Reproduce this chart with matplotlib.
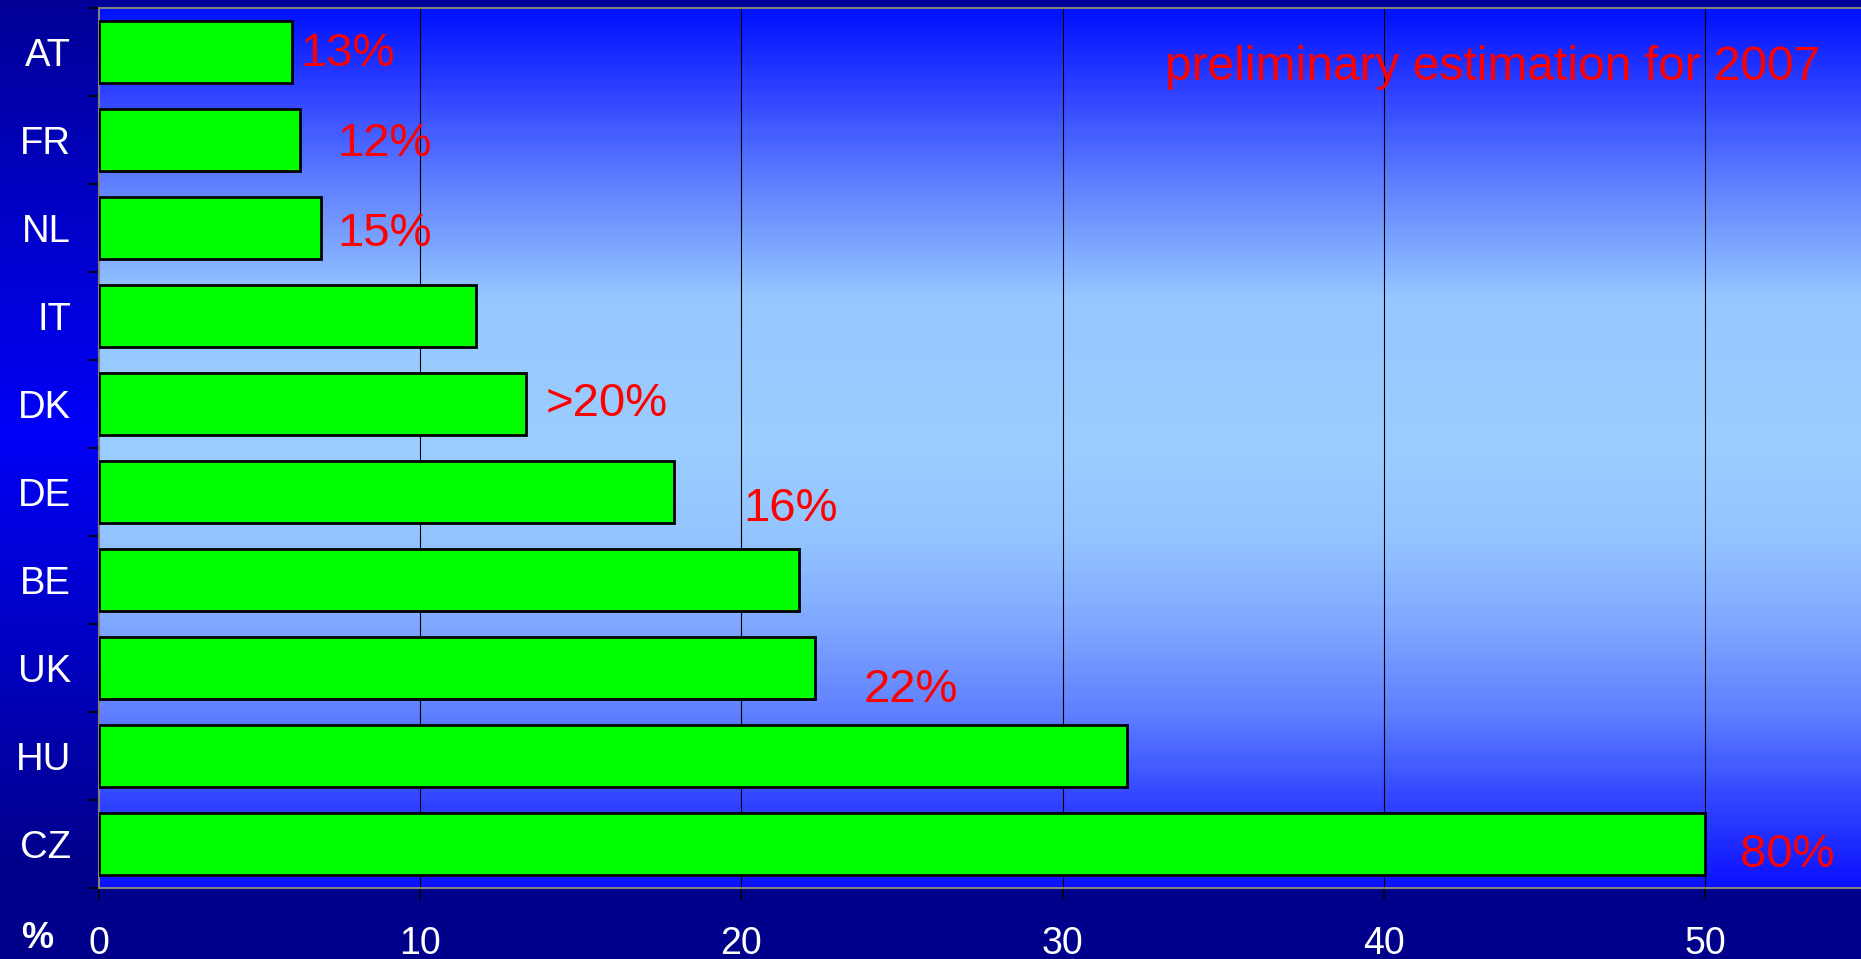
import numpy as np
import matplotlib.pyplot as plt
from matplotlib.colors import LinearSegmentedColormap

plt.rcParams['font.family'] = ['Liberation Sans', 'DejaVu Sans']

# share of each country (bars) and the red notes beside them
countries = ['AT', 'FR', 'NL', 'IT', 'DK', 'DE', 'BE', 'UK', 'HU', 'CZ']
values = [6.0, 6.25, 6.9, 11.75, 13.3, 17.9, 21.8, 22.3, 32.0, 50.0]
notes = ['13%', '12%', '15%', None, '>20%', '16%', None, '22%', None, '80%']
xticks = [0, 10, 20, 30, 40, 50]

# where each note sits (data coords: x value, category position of baseline)
note_pos = [(6.26, 0.16), (7.41, 1.18), (7.41, 2.21), None, (13.89, 4.14),
            (20.05, 5.33), None, (23.79, 7.39), None, (51.09, 9.26)]

W, H = 1861, 959
fig = plt.figure(figsize=(W / 100, H / 100), dpi=100)

# dark-blue backdrop for the whole figure
bg = fig.add_axes([0, 0, 1, 1], zorder=-10)
bg_cmap = LinearSegmentedColormap.from_list(
    'bg', [(0.0, '#000096'), (0.45, '#0000f8'), (0.9, '#00008c'), (1.0, '#00008a')])
bg.imshow(np.linspace(0, 1, 256)[:, None], aspect='auto', cmap=bg_cmap,
          extent=[0, 1, 0, 1], origin='upper')
bg.axis('off')

ax = fig.add_axes([99 / W, 1 - 888 / H, 1 - 99 / W, 880 / H])
xmax = (W - 99) / 32.12
ax.set_xlim(0, xmax)
ax.set_ylim(len(countries) - 0.5, -0.5)

# light band in the middle of the plot area
plot_cmap = LinearSegmentedColormap.from_list('plot', [
    (0.0, '#0010ff'), (0.1, '#3246ff'), (0.2, '#6080ff'), (0.33, '#96c8ff'),
    (0.5, '#9bcdff'), (0.6, '#94c4ff'), (0.7, '#80a8ff'), (0.8, '#6080ff'),
    (0.9, '#3246ff'), (1.0, '#0a10ff')])
ax.imshow(np.linspace(0, 1, 256)[:, None], aspect='auto', cmap=plot_cmap,
          extent=[0, xmax, len(countries) - 0.5, -0.5], origin='upper', zorder=0)

for x in xticks[1:]:
    ax.axvline(x, color='black', lw=0.8, zorder=1)

ax.barh(np.arange(len(countries)), values, height=0.7, color='#00ff00',
        edgecolor='black', linewidth=2, zorder=3)

for txt, pos in zip(notes, note_pos):
    if txt:
        ax.text(pos[0], pos[1], txt, color='#ff0000', fontsize=34,
                ha='left', va='baseline', zorder=4)

fig.text(1165 / W, 1 - 80 / H, 'preliminary estimation for 2007',
         color='#ff0000', fontsize=34.5, ha='left', va='baseline', zorder=4)

# axis styling
ax.set_yticks(np.arange(len(countries)))
ax.set_yticklabels(countries)
ax.set_yticks(np.arange(len(countries) + 1) - 0.5, minor=True)
ax.tick_params(axis='y', which='major', length=0, pad=20, labelsize=27.5,
               labelcolor='white')
ax.tick_params(axis='y', which='minor', length=8, width=1.2, color='black',
               direction='out')
ax.set_xticks(xticks)
ax.tick_params(axis='x', length=8.5, width=1.2, color='black', direction='out',
               pad=19, labelsize=27, labelcolor='white')

for side in ['left', 'top', 'bottom']:
    ax.spines[side].set_color('#808080')
    ax.spines[side].set_linewidth(1.5)
ax.spines['right'].set_visible(False)

fig.text(37 / W, 1 - 948 / H, '%', color='white', fontsize=26,
         fontweight='bold', ha='center', va='baseline')

fig.savefig('out.png', dpi=100)
